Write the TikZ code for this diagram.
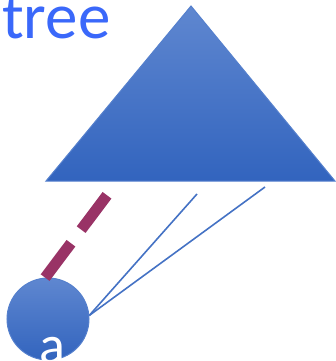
\documentclass[tikz,border=0pt]{standalone}
\usepackage{fontspec}
\setmainfont{Carlito}
\usetikzlibrary{positioning}
\definecolor{TBlue}{RGB}{58,104,250}
\definecolor{FTop}{RGB}{95,135,208}
\definecolor{FBot}{RGB}{50,100,190}
\definecolor{EdgeBlue}{RGB}{85,128,205}
\definecolor{LBlue}{RGB}{68,114,196}
\definecolor{Plum}{RGB}{153,51,102}

\begin{document}
\begin{tikzpicture}[x=1pt,y=-1pt,
    shapefill/.style={top color=FTop,bottom color=FBot,draw=EdgeBlue,line width=1pt},
    edge/.style={draw=LBlue,line width=1.6pt},
    hidden/.style={draw=Plum,line width=11pt,dash pattern=on 43pt off 17pt}]
  \useasboundingbox (0,0) rectangle (335,361);
  % subtree
  \coordinate (apex) at (191,6);
  \coordinate (bl) at (46,181);
  \coordinate (br) at (335,181);
  \path[shapefill] (apex) -- (br) -- (bl) -- cycle;
  \node[anchor=base west,inner sep=0pt,text=TBlue,font=\fontsize{65}{65}\selectfont] (title) at (2,39) {tree};
  % leaf
  \node[circle,shapefill,minimum size=82pt,inner sep=0pt] (leaf) at (48,319) {};
  \node[anchor=base,inner sep=0pt,text=white,font=\fontsize{54}{54}\selectfont] (lbl) at (52,363) {a};
  % ends below the base
  \coordinate (e1) at (108,194);
  \coordinate (e2) at (197,194);
  \coordinate (e3) at (265,187);
  \draw[hidden] (leaf.94) -- (e1);
  \draw[edge] (leaf.5) -- (e2);
  \draw[edge] (leaf.5) -- (e3);
\end{tikzpicture}
\end{document}
